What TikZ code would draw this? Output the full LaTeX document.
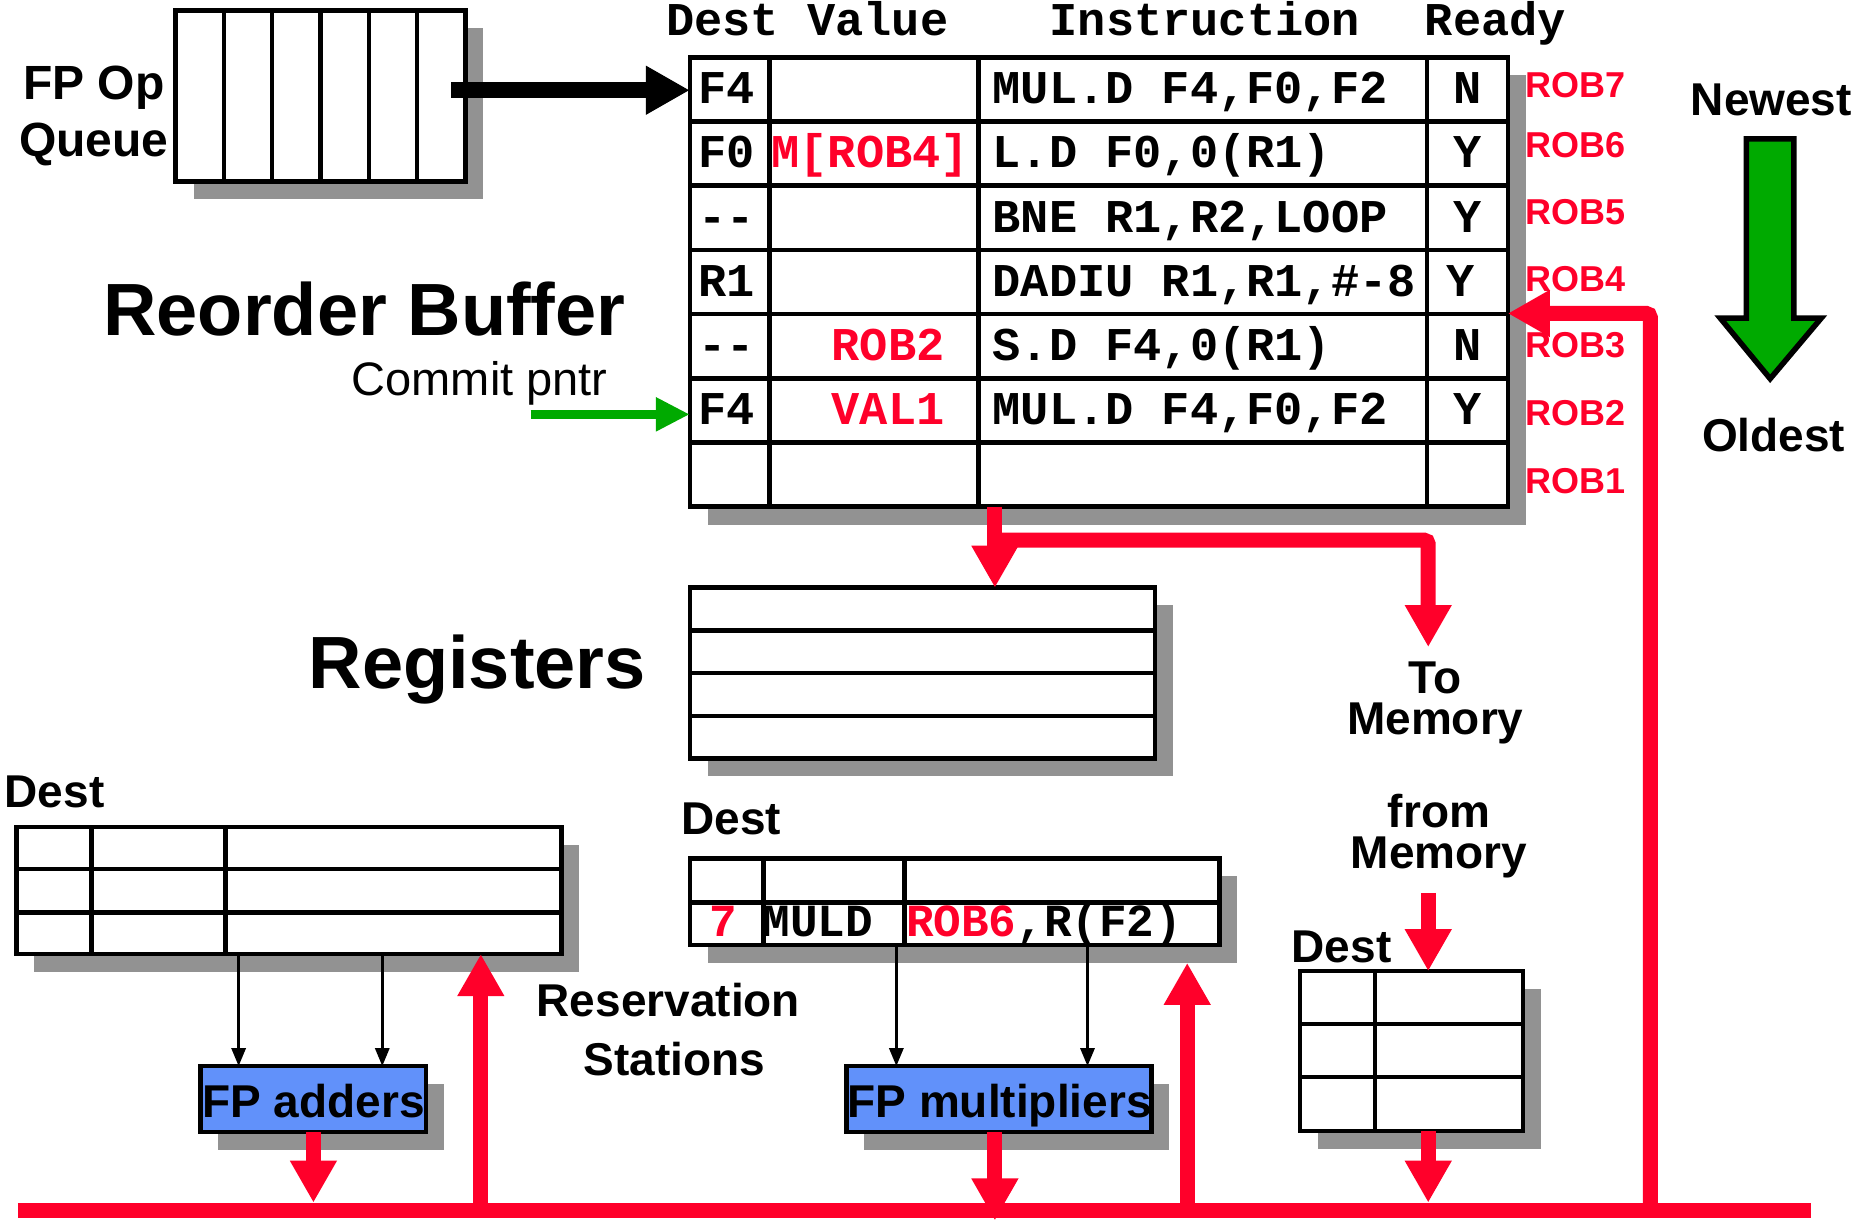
\documentclass[tikz,border=0pt]{standalone}
\usepackage{fontspec}
\setmainfont{Liberation Sans}
\newfontfamily\monof{Liberation Mono}
\usetikzlibrary{arrows.meta,calc,fit}
\definecolor{rred}{RGB}{255,0,42}
\definecolor{shadowgray}{RGB}{146,146,146}
\definecolor{fpblue}{RGB}{97,145,250}
\definecolor{arrgreen}{RGB}{0,170,0}
\newcommand\drawpanel[4]{%
  \coordinate (#1-a) at (#2);
  \coordinate (#1-b) at (#3);
  \fill[shade] ($(#1-a)+(15,15)$) rectangle ($(#1-b)+(15,15)$);
  \node[box,fit=(#1-a)(#1-b),#4] (#1) {};}
\tikzset{
 box/.style={draw=black,line width=4.5pt,fill=white,inner sep=0pt,outer sep=0pt},
 grid/.style={draw=black,line width=4.5pt},
 shade/.style={fill=shadowgray},
 redln/.style={draw=rred,line width=15pt},
 redarr/.style={draw=rred,line width=15pt,-{Triangle[width=44pt,length=42pt]}},
 blkarr/.style={draw=black,line width=16pt,-{Triangle[width=46pt,length=44pt]}},
 greenarr/.style={draw=arrgreen,line width=9pt,-{Triangle[width=32pt,length=34pt]}},
 thinarr/.style={draw=black,line width=3pt,-{Triangle[width=14pt,length=18pt]}},
 lbl/.style={font=\bfseries\fontsize{46}{50}\selectfont,inner sep=0pt,anchor=base},
 twol/.style={font=\bfseries\fontsize{46}{41}\selectfont,inner sep=0pt,align=center,anchor=base},
 big/.style={font=\bfseries\fontsize{74}{80}\selectfont,inner sep=0pt,anchor=base},
 mono/.style={font=\monof\bfseries\fontsize{47}{50}\selectfont,inner sep=0pt,anchor=base west},
 monoc/.style={mono,anchor=base},
 monor/.style={font=\monof\bfseries\fontsize{46}{50}\selectfont,inner sep=0pt,anchor=base west},
 robl/.style={font=\bfseries\fontsize{36}{40}\selectfont,text=rred,inner sep=0pt,anchor=west},
}
\begin{document}
\begin{tikzpicture}[x=1.18722pt,y=-1.18722pt]
\fill[white] (0,0) rectangle (1565,1029.3);
\useasboundingbox (0,0) rectangle (1565,1029.3);

% ---------- panels ----------
\drawpanel{queue}{148,9}{392,153}{}
\foreach \xx in {188.7,229.3,270,310.7,351.3} \draw[grid] (\xx,9) -- (\xx,153);

\drawpanel{rob}{581,48.3}{1270,426.8}{}
\foreach \yy in {102.4,156.4,210.5,264.6,318.6,372.7} \draw[grid] (581,\yy) -- (1270,\yy);
\foreach \xx in {648,824,1202} \draw[grid] (\xx,48.3) -- (\xx,426.8);

\drawpanel{reg}{581,495}{973,639}{}
\foreach \yy in {531,567,603} \draw[grid] (581,\yy) -- (973,\yy);

\drawpanel{rsadd}{14,696.5}{473,803.6}{}
\foreach \yy in {732,768.6} \draw[grid] (14,\yy) -- (473,\yy);
\foreach \xx in {77,190} \draw[grid] (\xx,696.5) -- (\xx,803.6);

\drawpanel{rsmul}{581,723}{1027,796}{}
\draw[grid] (581,760) -- (1027,760);
\foreach \xx in {643,762} \draw[grid] (\xx,723) -- (\xx,796);

\drawpanel{ldbuf}{1095,818}{1283,952.5}{}
\foreach \yy in {862.6,907} \draw[grid] (1095,\yy) -- (1283,\yy);
\draw[grid] (1158,818) -- (1158,952.5);

\drawpanel{fpadd}{169,898}{359,953.4}{fill=fpblue}
\drawpanel{fpmul}{713,898}{970,953.4}{fill=fpblue}

% ---------- coordinates ----------
\coordinate (qout) at (380,76);
\coordinate (cp) at (447,349);
\coordinate (robout) at (838,426.8);
\coordinate (tee) at (838,455);
\coordinate (memcorner) at (1203,455);
\coordinate (tomem) at (1203,545);
\coordinate (frommem) at (1203,752);
\coordinate (busL) at (15,1020);
\coordinate (busR) at (1525,1020);
\coordinate (busV) at (1390,1020);
\coordinate (busC) at (1390,264);
\coordinate (b1) at (405,1020);
\coordinate (b2) at (1000,1020);
\coordinate (b2tip) at (1000,811);
\coordinate (addtip) at (264,1013);
\coordinate (multip) at (838,1028);
\coordinate (ldtip) at (1203,1013);

% ---------- red connectors ----------
\draw[redln] (busL) -- (busR);
\draw[redarr,rounded corners=4pt] (busV) -- (busC) -- (rob.east |- busC);
\draw[redarr] (robout) -- (reg.north -| robout);
\draw[redarr,rounded corners=4pt] (tee) -- (memcorner) -- (tomem);
\draw[redarr] (frommem) -- (ldbuf.north -| frommem);
\draw[redarr] (ldbuf.south -| ldtip) -- (ldtip);
\draw[redarr] (fpadd.south -| addtip) -- (addtip);
\draw[redarr] (fpmul.south -| multip) -- (multip);
\draw[redarr] (b1) -- (b1 |- rsadd.south);
\draw[redarr] (b2) -- (b2tip);

% ---------- black and green connectors ----------
\draw[blkarr] (qout) -- (rob.west |- qout);
\draw[greenarr] (cp) -- (rob.west |- cp);
\foreach \xx/\nm in {201/a1,322/a2} {
  \coordinate (\nm) at (\xx,0);
  \draw[thinarr] (rsadd.south -| \nm) -- (fpadd.north -| \nm);}
\foreach \xx/\nm in {755/m1,916/m2} {
  \coordinate (\nm) at (\xx,0);
  \draw[thinarr] (rsmul.south -| \nm) -- (fpmul.north -| \nm);}

% big green arrow
\draw[line width=5.5pt,fill=arrgreen,line join=miter]
  (1471,117) -- (1511,117) -- (1511,268) -- (1534,268) -- (1491,319)
  -- (1449,268) -- (1471,268) -- cycle;

% ---------- texts ----------
\node[lbl,font=\bfseries\fontsize{48}{50}\selectfont] (fpop) at (79,84) {FP Op};
\node[lbl,font=\bfseries\fontsize{48}{50}\selectfont] (fpq) at (79,132) {Queue};
\node[big] (robtitle) at (307,283) {Reorder Buffer};
\node[font=\fontsize{47}{50}\selectfont,inner sep=0pt,anchor=base] (cptxt) at (404,333) {Commit pntr};
\node[big] (regtitle) at (402,580) {Registers};
\node[lbl] (newest) at (1492,97.7) {Newest};
\node[lbl] (oldest) at (1494,380.6) {Oldest};
\node[twol] (tomemtxt) at (1209,619) {To\\Memory};
\node[twol] (frmemtxt) at (1212,731.5) {from\\Memory};
\node[lbl] (dst1) at (46,680) {Dest};
\node[lbl] (dst2) at (616,703) {Dest};
\node[lbl] (dst3) at (1130,811) {Dest};
\node[lbl] (rs1) at (563,856.5) {Reservation};
\node[lbl] (rs2) at (568,905.5) {Stations};
\node[lbl] (fpaddt) at (264,941) {FP adders};
\node[lbl] (fpmult) at (842,941) {FP multipliers};

% header
\node[mono] (h1) at (561,29.5) {Dest Value};
\node[mono] (h2) at (884,29.5) {Instruction};
\node[mono] (h3) at (1200,29.5) {Ready};

% ROB rows
\node[mono] (d1) at (588,87.3) {F4};
\node[mono] (d2) at (588,141.4) {F0};
\node[mono] (d3) at (588,195.5) {--};
\node[mono] (d4) at (588,249.5) {R1};
\node[mono] (d5) at (588,303.6) {--};
\node[mono] (d6) at (588,357.7) {F4};
\node[monoc,text=rred] (v2) at (733,141.4) {M[ROB4]};
\node[monoc,text=rred] (v5) at (748,303.6) {ROB2};
\node[monoc,text=rred] (v6) at (748,357.7) {VAL1};
\node[mono] (i1) at (836,87.3) {MUL.D F4,F0,F2};
\node[mono] (i2) at (836,141.4) {L.D F0,0(R1)};
\node[mono] (i3) at (836,195.5) {BNE R1,R2,LOOP};
\node[mono] (i4) at (836,249.5) {DADIU R1,R1,\#-8};
\node[mono] (i5) at (836,303.6) {S.D F4,0(R1)};
\node[mono] (i6) at (836,357.7) {MUL.D F4,F0,F2};
\node[monoc] (r1) at (1236,87.3) {N};
\node[monoc] (r2) at (1236,141.4) {Y};
\node[monoc] (r3) at (1236,195.5) {Y};
\node[monoc] (r4) at (1230,249.5) {Y};
\node[monoc] (r5) at (1236,303.6) {N};
\node[monoc] (r6) at (1236,357.7) {Y};

% ROB labels
\node[robl] (rob7) at (1285,71.6) {ROB7};
\node[robl] (rob6) at (1285,122) {ROB6};
\node[robl] (rob5) at (1285,178.6) {ROB5};
\node[robl] (rob4) at (1285,235) {ROB4};
\node[robl] (rob3) at (1285,291) {ROB3};
\node[robl] (rob2) at (1285,348) {ROB2};
\node[robl] (rob1) at (1285,405) {ROB1};

% multiplier RS entry
\node[monor,anchor=base,text=rred] (e7) at (609,789) {7};
\node[monor] (emul) at (642,789) {MULD};
\node[monor] (eops) at (763,789) {\textcolor{rred}{ROB6},R(F2)};
\end{tikzpicture}
\end{document}
